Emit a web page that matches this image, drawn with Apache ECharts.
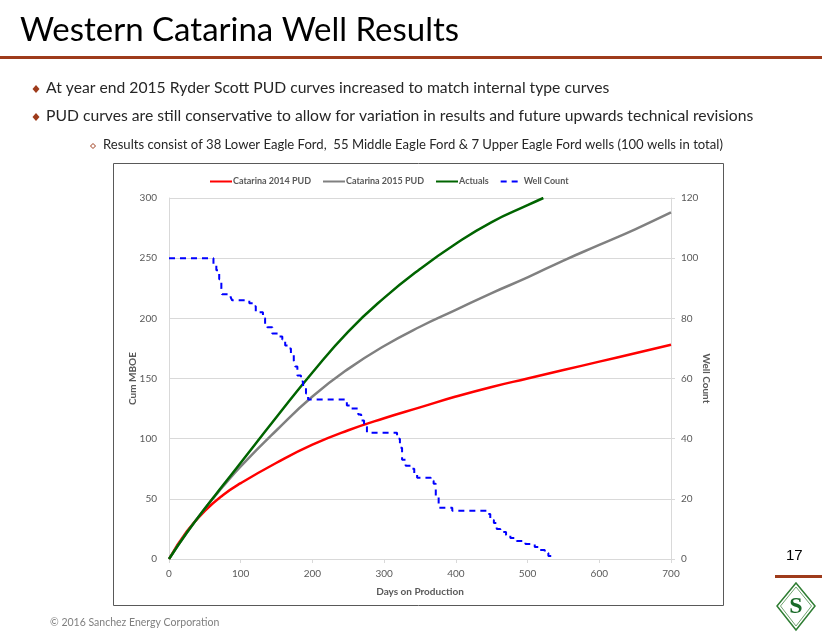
<!DOCTYPE html>
<html>
<head>
<meta charset="utf-8">
<script src="https://cdn.jsdelivr.net/npm/echarts@6/dist/echarts.min.js"></script>
<style>html,body{margin:0;padding:0;background:#fff;}#c{width:822px;height:635px;}</style>
</head>
<body>
<div id="c"></div>
<script>
// ---- data ----
const pudDays = [0, 25, 50, 75, 100, 150, 200, 250, 300, 350, 400, 450, 500, 550, 600, 650, 700];
const pud2014 = [0, 23, 40, 53, 63, 80, 95, 107, 117, 126, 135, 143, 150, 157, 164, 171, 178];
const pud2015 = [0, 22, 42, 60, 77, 107, 135, 158, 177, 193, 207, 221, 234, 248, 261, 274, 288];
const actualDays = [0, 25, 50, 75, 100, 150, 200, 250, 300, 350, 400, 450, 500, 522];
const actuals = [0, 22, 42, 61, 80, 118, 155, 189, 217, 241, 262, 280, 294, 300];
const wellDays = [0, 62, 66, 70, 73, 74, 86, 88, 112, 117, 121, 131, 134, 137, 144, 152, 158, 162, 167, 170, 174, 176, 179, 184, 187, 191, 194, 248, 252, 264, 268, 272, 276, 318, 322, 325, 330, 337, 342, 346, 365, 369, 372, 376, 395, 444, 448, 453, 457, 462, 470, 476, 485, 497, 510, 516, 524, 529, 533];
const wellCount = [100, 98, 96, 93, 90, 88, 87, 86, 85, 84, 82, 80, 78, 77, 75, 74, 73, 71, 70, 68, 66, 64, 61, 59, 57, 55, 53, 51, 50, 48, 46, 44, 42, 40, 37, 33, 31, 30, 28, 27, 26, 25, 21, 17, 16, 15, 13, 12, 10, 9, 8, 7, 6, 5, 4, 3, 2, 1, 0];
const seriesNames = ['Catarina 2014 PUD', 'Catarina 2015 PUD', 'Actuals', 'Well Count'];
const xTicks = {min: 0, max: 700, interval: 100};
const yLeftTicks = {min: 0, max: 300, interval: 50};
const yRightTicks = {min: 0, max: 120, interval: 20};
const titleText = 'Western Catarina Well Results';
const bullets = [
  'At year end 2015 Ryder Scott PUD curves increased to match internal type curves',
  'PUD curves are still conservative to allow for variation in results and future upwards technical revisions'
];
const subBullet = 'Results consist of 38 Lower Eagle Ford,  55 Middle Eagle Ford & 7 Upper Eagle Ford wells (100 wells in total)';
const footer = '\u00A9 2016 Sanchez Energy Corporation';
const pageNum = '17';

const zip = (xs, ys) => xs.map((x, i) => [x, ys[i]]);
const FONT = 'Lato';
const BROWN = '#9E3B1B';

const chart = echarts.init(document.getElementById('c'), null, {renderer: 'canvas'});
const axisText = {color: '#595959', fontSize: 10, fontFamily: FONT};
const gridLine = {show: true, lineStyle: {color: '#D9D9D9', width: 1}};
const axisLine = {show: true, lineStyle: {color: '#D9D9D9', width: 1}};
const axisTick = {show: true, length: 4, lineStyle: {color: '#D9D9D9'}};
const nameStyle = {color: '#595959', fontSize: 10, fontWeight: 'bold', fontFamily: FONT};

chart.setOption({
  animation: false,
  backgroundColor: '#fff',
  textStyle: {fontFamily: FONT},
  grid: {left: 169, right: 151, top: 198, bottom: 76},
  legend: {
    top: 172, left: 204,
    itemWidth: 22, itemHeight: 3, itemGap: 11,
    itemStyle: {opacity: 0},
    textStyle: {color: '#595959', fontSize: 9, fontWeight: 'bold', fontFamily: FONT, padding: [0, 0, 0, -4]},
    data: seriesNames.map(n => ({name: n}))
  },
  xAxis: {
    type: 'value', min: xTicks.min, max: xTicks.max, interval: xTicks.interval,
    name: 'Days on Production', nameLocation: 'middle', nameGap: 28, nameMoveOverlap: false, nameTextStyle: nameStyle,
    axisLabel: Object.assign({margin: 10}, axisText),
    axisLine: axisLine, axisTick: axisTick, splitLine: {show: false}
  },
  yAxis: [{
    type: 'value', min: yLeftTicks.min, max: yLeftTicks.max, interval: yLeftTicks.interval,
    name: 'Cum MBOE', nameLocation: 'middle', nameGap: 31, nameMoveOverlap: false, nameTextStyle: nameStyle,
    axisLabel: Object.assign({margin: 12}, axisText),
    axisLine: axisLine, axisTick: {show: false}, splitLine: gridLine
  }, {
    type: 'value', min: yRightTicks.min, max: yRightTicks.max, interval: yRightTicks.interval,
    name: 'Well Count', nameLocation: 'middle', nameGap: 30, nameRotate: -90, nameMoveOverlap: false, nameTextStyle: nameStyle,
    axisLabel: Object.assign({margin: 10}, axisText),
    axisLine: axisLine, axisTick: axisTick, splitLine: {show: false}
  }],
  series: [{
    name: seriesNames[0], type: 'line', symbol: 'none', smooth: 0.5,
    lineStyle: {color: '#FF0000', width: 2.5}, itemStyle: {color: '#FF0000'},
    data: zip(pudDays, pud2014), z: 3
  }, {
    name: seriesNames[1], type: 'line', symbol: 'none', smooth: 0.5,
    lineStyle: {color: '#808080', width: 2.5}, itemStyle: {color: '#808080'},
    data: zip(pudDays, pud2015), z: 4
  }, {
    name: seriesNames[2], type: 'line', symbol: 'none', smooth: 0.5,
    lineStyle: {color: '#006400', width: 2.5}, itemStyle: {color: '#006400'},
    data: zip(actualDays, actuals), z: 5
  }, {
    name: seriesNames[3], type: 'line', symbol: 'none', step: 'end', yAxisIndex: 1,
    lineStyle: {color: '#0000FF', width: 2, type: [6, 5]}, itemStyle: {color: '#0000FF'},
    data: zip(wellDays, wellCount), z: 6
  }],
  graphic: [
    {type: 'text', left: 20, top: 14, style: {text: titleText, fill: '#000', font: '33px ' + FONT}},
    {type: 'rect', shape: {x: 0, y: 56, width: 822, height: 3}, style: {fill: BROWN}},
    {type: 'polygon', shape: {points: [[36, 85], [39.5, 89], [36, 93], [32.5, 89]]}, style: {fill: BROWN}},
    {type: 'text', left: 46, top: 80, style: {text: bullets[0], fill: '#262626', font: '15.7px ' + FONT}},
    {type: 'polygon', shape: {points: [[36, 113], [39.5, 117], [36, 121], [32.5, 117]]}, style: {fill: BROWN}},
    {type: 'text', left: 46, top: 108, style: {text: bullets[1], fill: '#262626', font: '15.7px ' + FONT}},
    {type: 'polygon', shape: {points: [[93, 143.5], [95.5, 146], [93, 148.5], [90.5, 146]]}, style: {fill: 'none', stroke: BROWN, lineWidth: 1}},
    {type: 'text', left: 103, top: 138, style: {text: subBullet, fill: '#262626', font: '13.1px ' + FONT}},
    {type: 'rect', shape: {x: 113.5, y: 163.5, width: 610, height: 442}, style: {fill: 'none', stroke: '#595959', lineWidth: 1}, z: -1},
    {type: 'text', left: 786, top: 548, style: {text: pageNum, fill: '#000', font: '15px Liberation Sans'}},
    {type: 'rect', shape: {x: 775, y: 575, width: 47, height: 3}, style: {fill: BROWN}},
    {type: 'polygon', shape: {points: [[796, 583], [815, 606], [796, 630], [777, 606]]}, style: {fill: '#fff', stroke: '#2E7D32', lineWidth: 1.5}},
    {type: 'polygon', shape: {points: [[796, 587], [811.5, 606], [796, 626], [780.5, 606]]}, style: {fill: 'none', stroke: '#6FA36F', lineWidth: 1}},
    {type: 'text', x: 796, y: 607, style: {text: 'S', fill: '#1B6B2A', font: 'bold 24px Liberation Serif', align: 'center', verticalAlign: 'middle'}},
    {type: 'text', left: 50, top: 617, style: {text: footer, fill: '#7F7F7F', font: '10.5px ' + FONT}}
  ]
});
</script>
</body>
</html>
